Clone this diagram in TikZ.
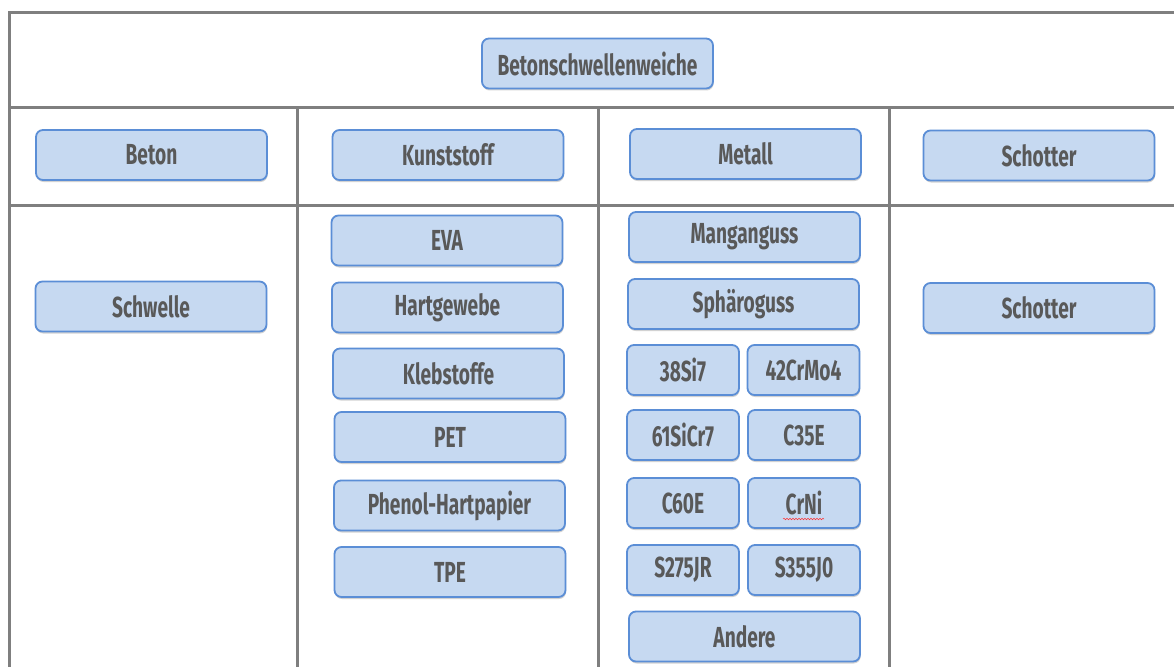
\documentclass[tikz,border=0pt]{standalone}
\usepackage{fontspec}
\newfontfamily\boxfont{Fira Sans}[FakeStretch=0.66]
\usetikzlibrary{shadows,decorations.pathmorphing}
\definecolor{boxfill}{HTML}{C6D9F1}
\definecolor{boxdraw}{HTML}{5B8ED6}
\definecolor{gridgray}{HTML}{7F7F7F}
\definecolor{txtgray}{HTML}{595959}
\tikzset{
  x=1pt, y=-1pt,
  gridline/.style={draw=gridgray, line width=3pt},
  box/.style={draw=boxdraw, fill=boxfill, line width=1.8pt, rounded corners=7pt,
    minimum width=231pt, minimum height=50pt, inner sep=0pt,
    font=\boxfont\bfseries\fontsize{29}{32}\selectfont, text=txtgray,
    drop shadow={opacity=0.35, shadow xshift=0.6pt, shadow yshift=-2pt}},
  small/.style={box, minimum width=112pt},
  squiggle/.style={draw=red!80, line width=0.5pt, decorate,
    decoration={snake, amplitude=0.8pt, segment length=3pt}}
}
\begin{document}
\begin{tikzpicture}
\useasboundingbox[fill=white] (0,0) rectangle (1174,666);
% grid
\draw[gridline] (9,670) -- (9,13) -- (1180,13);
\draw[gridline] (9,108) -- (1180,108);
\draw[gridline] (9,205) -- (1180,205);
\draw[gridline] (297,108) -- (297,670);
\draw[gridline] (598,108) -- (598,670);
\draw[gridline] (889,108) -- (889,670);
% header
\node[box] (top) at (597.5,63.5) {Betonschwellenweiche};
\node[box] (beton) at (151.5,155) {Beton};
\node[box] (kunst) at (448,155) {Kunststoff};
\node[box] (metall) at (745.5,154) {Metall};
\node[box] (schotter) at (1039,155.5) {Schotter};
% column 1
\node[box] (schwelle) at (151,306.5) {Schwelle};
% column 2
\node[box] (eva) at (447,240.5) {EVA};
\node[box] (hartgewebe) at (447.5,307.5) {Hartgewebe};
\node[box] (kleb) at (448.5,373.5) {Klebstoffe};
\node[box] (pet) at (450,437) {PET};
\node[box] (phenol) at (449.5,505.5) {Phenol-Hartpapier};
\node[box] (tpe) at (450,572) {TPE};
% column 3
\node[box] (mangan) at (744.5,237) {Manganguss};
\node[box] (sphaero) at (743.5,304) {Sphäroguss};
\node[small] (s38) at (683,370) {38Si7};
\node[small] (s42) at (803.5,370) {42CrMo4};
\node[small] (s61) at (683,435) {61SiCr7};
\node[small] (c35) at (804,435) {C35E};
\node[small] (c60) at (683,503) {C60E};
\node[small] (crni) at (804,503) {CrNi};
\node[small] (s275) at (683,570) {S275JR};
\node[small] (s355) at (804,570) {S355J0};
\node[box] (andere) at (744.5,636.5) {Andere};
% column 4
\node[box] (schotter2) at (1039,308) {Schotter};
% spell-check mark under CrNi
\path[squiggle] ([xshift=-21pt,yshift=-16pt]crni.center) -- ([xshift=20pt,yshift=-16pt]crni.center);
\end{tikzpicture}
\end{document}
